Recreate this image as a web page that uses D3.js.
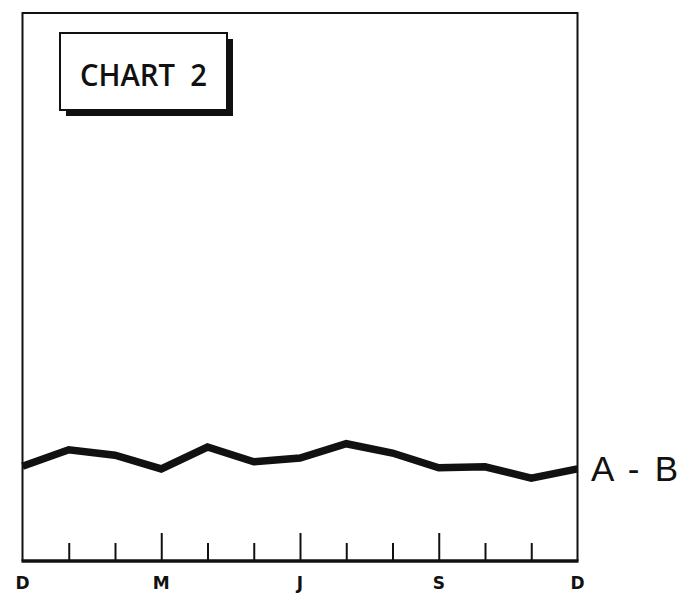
<!DOCTYPE html>
<html>
<head>
<meta charset="utf-8">
<script src="https://cdn.jsdelivr.net/npm/d3@7"></script>
<style>
html,body{margin:0;padding:0;background:#fff;}
svg{display:block;}
</style>
</head>
<body>
<svg id="chart" width="683" height="593"></svg>
<script>
// ---- data ----
const months = ["D","J","F","M","A","M","J","J","A","S","O","N","D"];
const shownLabels = [0, 3, 6, 9, 12];      // month indices with a label
const majorTicks = [3, 6, 9];              // taller ticks
const seriesAB = [17.3, 20.3, 19.3, 16.8, 20.8, 18.1, 18.8, 21.4, 19.7, 17.0, 17.2, 15.1, 16.8];
const seriesName = "A - B";
const chartTitle = "CHART  2";

// ---- layout ----
const svg = d3.select("#chart");
const L = 22.5, R = 577.5, T = 13, B = 561;

const x = d3.scaleLinear().domain([0, months.length - 1]).range([L, R]);
const y = d3.scaleLinear().domain([0, 100]).range([B, T]);

const ink = "#111";

// frame (left, top, right)
svg.append("path")
  .attr("d", `M${L},${B} L${L},${T} L${R},${T} L${R},${B}`)
  .attr("fill", "none").attr("stroke", ink).attr("stroke-width", 2);

// bottom axis via d3 axis
const tickIdx = d3.range(1, months.length - 1);
const axis = d3.axisBottom(x)
  .tickValues(tickIdx)
  .tickFormat("")
  .tickSizeOuter(0)
  .tickSizeInner(0);
const gAxis = svg.append("g").attr("transform", `translate(0,${B})`).call(axis);
gAxis.select(".domain").remove();
gAxis.selectAll(".tick line")
  .attr("y2", d => majorTicks.includes(d) ? -28 : -18)
  .attr("stroke", ink).attr("stroke-width", 2);

svg.append("line")
  .attr("x1", L - 1).attr("x2", R + 1).attr("y1", B).attr("y2", B)
  .attr("stroke", ink).attr("stroke-width", 3.5);

// month labels
svg.append("g").selectAll("text")
  .data(shownLabels)
  .join("text")
  .attr("x", d => x(d))
  .attr("y", 589)
  .attr("text-anchor", "middle")
  .attr("font-family", "DejaVu Sans, sans-serif")
  .attr("font-weight", "bold")
  .attr("font-size", 17)
  .attr("fill", ink)
  .text(d => months[d]);

// series line
const line = d3.line().x((d, i) => x(i)).y(d => y(d));
svg.append("path")
  .datum(seriesAB)
  .attr("d", line)
  .attr("fill", "none")
  .attr("stroke", ink)
  .attr("stroke-width", 7.5)
  .attr("stroke-linejoin", "miter");

// series label
svg.append("text")
  .attr("x", 591)
  .attr("y", y(seriesAB[seriesAB.length - 1]) + 12)
  .attr("font-family", "Liberation Sans, Arial, sans-serif")
  .attr("font-size", 35)
  .attr("fill", ink)
  .attr("textLength", 87)
  .attr("lengthAdjust", "spacing")
  .text(seriesName);

// title box with shadow
const bx = 60, by = 33, bw = 167, bh = 77;
svg.append("rect")
  .attr("x", bx + 6).attr("y", by + 6).attr("width", bw).attr("height", bh)
  .attr("fill", ink);
svg.append("rect")
  .attr("x", bx).attr("y", by).attr("width", bw).attr("height", bh)
  .attr("fill", "#fff").attr("stroke", ink).attr("stroke-width", 2);
svg.append("text")
  .attr("x", 80)
  .attr("y", 86)
  .attr("font-family", "Open Sans, sans-serif")
  .attr("font-weight", 600)
  .attr("font-size", 30)
  .attr("fill", ink)
  .attr("textLength", 127)
  .attr("lengthAdjust", "spacingAndGlyphs")
  .attr("xml:space", "preserve")
  .style("white-space", "pre")
  .text(chartTitle);
</script>
</body>
</html>
